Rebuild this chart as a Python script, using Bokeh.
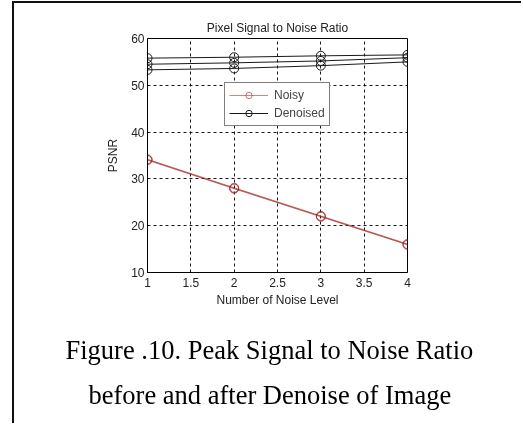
from bokeh.plotting import figure
from bokeh.models import Legend, LegendItem, FixedTicker, Range1d, Title
from bokeh.embed import file_html
from bokeh.resources import INLINE

# ---- data ----
noise_level = [1, 2, 3, 4]
noisy_a = [34.2, 28.1, 22.1, 16.1]
noisy_b = [34.1, 28.0, 22.0, 15.9]
noisy_c = [34.0, 27.9, 21.9, 16.0]
denoised_a = [55.8, 56.0, 56.3, 56.5]
denoised_b = [54.5, 54.8, 55.2, 55.9]
denoised_c = [53.3, 53.6, 54.2, 55.0]
x_ticks = [1, 1.5, 2, 2.5, 3, 3.5, 4]
y_ticks = [10, 20, 30, 40, 50, 60]
caption_lines = ["Figure .10. Peak Signal to Noise Ratio",
                 "before and after Denoise of Image"]

FONT = "Liberation Sans"
SERIF = "Liberation Serif"
RED = "#a02020"
BLACK = "#1a1a1a"

p = figure(width=509, height=422, output_backend="svg", toolbar_location=None,
           x_range=Range1d(1, 4), y_range=Range1d(10, 60),
           min_border_left=133, min_border_right=116,
           min_border_top=35, min_border_bottom=153)
p.styles = {"position": "fixed", "left": "12px", "top": "1px",
            "border-top": "2px solid #111", "border-left": "2px solid #111"}

p.title.text = "Pixel Signal to Noise Ratio"
p.title.align = "center"
p.title.text_font = FONT
p.title.text_font_size = "12px"
p.title.text_font_style = "normal"
p.title.text_color = "#222222"
p.title.standoff = 8

p.background_fill_color = "white"
p.border_fill_color = "white"
p.outline_line_color = "black"
p.outline_line_width = 1

p.xaxis.ticker = FixedTicker(ticks=x_ticks)
p.yaxis.ticker = FixedTicker(ticks=y_ticks)
for ax in (p.xaxis, p.yaxis):
    ax.major_tick_in = 0
    ax.major_tick_out = 0
    ax.minor_tick_in = 0
    ax.minor_tick_out = 0
    ax.axis_line_color = "black"
    ax.major_label_text_font = FONT
    ax.major_label_text_font_size = "12px"
    ax.major_label_text_color = "#222222"
    ax.axis_label_text_font = FONT
    ax.axis_label_text_font_size = "12px"
    ax.axis_label_text_font_style = "normal"
    ax.axis_label_text_color = "#222222"
p.xaxis.major_label_standoff = 5
p.yaxis.major_label_standoff = 3
p.xaxis.axis_label = "Number of Noise Level"
p.yaxis.axis_label = "PSNR"
p.xaxis.axis_label_standoff = 3
p.yaxis.axis_label_standoff = 8

for g in (p.xgrid, p.ygrid):
    g.grid_line_color = "black"
    g.grid_line_dash = "3 3"
    g.grid_line_width = 1
    g.grid_line_alpha = 0.9

items = []
for i, ys in enumerate([noisy_a, noisy_b, noisy_c]):
    l = p.line(noise_level, ys, line_color=RED, line_width=1, line_alpha=0.55)
    c = p.scatter(noise_level, ys, marker="circle", size=9, line_color=RED,
                  fill_color=None, line_width=1, line_alpha=0.6)
    if i == 0:
        items.append(LegendItem(label="Noisy", renderers=[l, c]))
for i, ys in enumerate([denoised_a, denoised_b, denoised_c]):
    l = p.line(noise_level, ys, line_color=BLACK, line_width=1)
    c = p.scatter(noise_level, ys, marker="circle", size=9, line_color=BLACK,
                  fill_color=None, line_width=1)
    if i == 0:
        items.append(LegendItem(label="Denoised", renderers=[l, c]))

legend = Legend(items=items, location=(77, 146), margin=0, padding=4,
                spacing=2, glyph_width=39, glyph_height=16, label_height=16,
                label_standoff=6, label_text_font=FONT, label_text_font_size="12px",
                border_line_color="black", border_line_width=1,
                background_fill_color="white", background_fill_alpha=1)
p.add_layout(legend, "center")

cap1 = Title(text=caption_lines[0], align="left", offset=-82,
             text_font=SERIF, text_font_size="26.5px", text_font_style="normal",
             text_color="black", text_line_height=0.8, standoff=47)
cap2 = Title(text=caption_lines[1], align="left", offset=-59,
             text_font=SERIF, text_font_size="26.5px", text_font_style="normal",
             text_color="black", text_line_height=0.8, standoff=-22)
p.add_layout(cap1, "below")
p.add_layout(cap2, "below")

open("out.html", "w").write(file_html(p, INLINE))
